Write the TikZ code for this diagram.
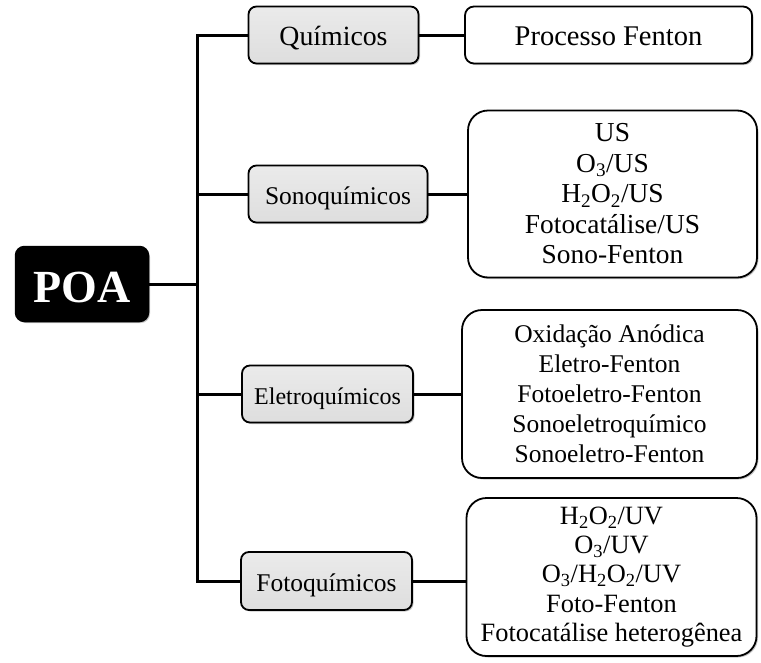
\documentclass[tikz,border=0pt]{standalone}
\usepackage{fontspec}
\setmainfont{Liberation Serif}
\usetikzlibrary{shadows}
\newcommand{\fsz}[1]{\fontsize{#1}{30.5}\selectfont}
\begin{document}
\begin{tikzpicture}[x=1pt,y=-1pt,
  conn/.style={line width=3pt},
  rootbox/.style={draw=black, fill=black, rounded corners=9pt, line width=1.5pt,
    text=white, font=\bfseries\fontsize{46}{50}\selectfont,
    text height=36pt, text depth=0pt,
    drop shadow={shadow xshift=1.5pt, shadow yshift=-1.5pt, opacity=0.45}},
  catbox/.style={draw=black, line width=1.8pt, rounded corners=8pt,
    top color=gray!16, bottom color=gray!26,
    inner sep=0pt, text height=20pt, text depth=0pt,
    drop shadow={shadow xshift=1.5pt, shadow yshift=-1.5pt, opacity=0.45}},
  itembox/.style={draw=black, fill=white, line width=1.8pt, align=center, inner sep=0pt,
    drop shadow={shadow xshift=1.5pt, shadow yshift=-1.5pt, opacity=0.45}}
]
\useasboundingbox (0,0) rectangle (761,662);

% root
\node[rootbox, minimum width=133pt, minimum height=75pt] (poa) at (82,284) {POA};

% categories
\node[catbox, font=\fsz{27.8}, minimum width=170pt, minimum height=57pt] (qui) at (333.5,35) {Químicos};
\node[catbox, font=\fsz{25.5}, minimum width=179pt, minimum height=57pt] (son) at (338,194) {Sonoquímicos};
\node[catbox, font=\fsz{24}, minimum width=171pt, minimum height=57pt] (ele) at (327.5,394) {Eletroquímicos};
\node[catbox, font=\fsz{25.5}, minimum width=171pt, minimum height=58pt] (fot) at (326.5,581) {Fotoquímicos};

% processes
\node[itembox, font=\fsz{28.5}, text height=20pt, text depth=0pt, rounded corners=9pt,
  minimum width=287pt, minimum height=57pt] (pf) at (608.5,35) {Processo Fenton};
\node[itembox, font=\fontsize{27.4}{30.5}\selectfont, rounded corners=20pt,
  minimum width=289pt, minimum height=167pt] (sl) at (612.5,194)
  {US\\O\textsubscript{3}/US\\H\textsubscript{2}O\textsubscript{2}/US\\Fotocatálise/US\\Sono-Fenton};
\node[itembox, font=\fontsize{25.5}{30}\selectfont, rounded corners=20pt,
  minimum width=295pt, minimum height=168pt] (el) at (609.5,394)
  {Oxidação Anódica\\Eletro-Fenton\\Fotoeletro-Fenton\\Sonoeletroquímico\\Sonoeletro-Fenton};
\node[itembox, font=\fontsize{26.4}{29.2}\selectfont, rounded corners=20pt,
  minimum width=290pt, minimum height=158pt] (fl) at (611.5,577)
  {H\textsubscript{2}O\textsubscript{2}/UV\\O\textsubscript{3}/UV\\O\textsubscript{3}/H\textsubscript{2}O\textsubscript{2}/UV\\Foto-Fenton\\Fotocatálise heterogênea};

% trunk and branches
\coordinate (tr) at (197,284);
\draw[conn] (poa.east) -- (tr);
\draw[conn, line join=miter] (qui.west) -| (tr |- fot.west) -- (fot.west);
\draw[conn] (tr |- son.west) -- (son.west);
\draw[conn] (tr |- ele.west) -- (ele.west);
\draw[conn] (qui.east) -- (pf.west);
\draw[conn] (son.east) -- (sl.west);
\draw[conn] (ele.east) -- (el.west);
\draw[conn] (fot.east) -- (fot.east -| fl.west);
\end{tikzpicture}
\end{document}
